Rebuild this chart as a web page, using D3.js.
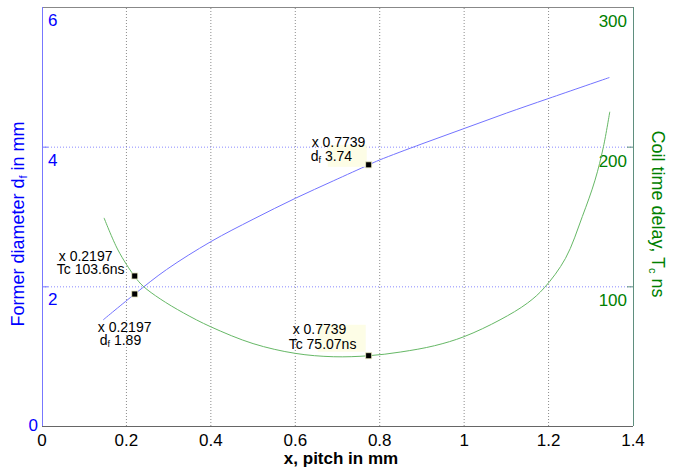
<!DOCTYPE html>
<html>
<head>
<meta charset="utf-8">
<script src="https://cdn.jsdelivr.net/npm/d3@7"></script>
<style>
  body { margin: 0; background: #fff; }
  svg { display: block; font-family: "Liberation Sans", Arial, sans-serif; }
</style>
</head>
<body>
<svg id="chart"></svg>
<script>
// former diameter (left axis)
const pitchDf = [0.145, 0.2197, 0.295, 0.4, 0.5, 0.6, 0.69, 0.7739, 0.8, 0.9, 1.0, 1.1, 1.2, 1.344];
const formerDia = [1.52, 1.89, 2.24, 2.64, 2.96, 3.26, 3.51, 3.74, 3.81, 4.04, 4.26, 4.48, 4.69, 4.99];

// coil time delay (right axis)
const pitchTc = [0.147, 0.18, 0.2197, 0.24, 0.28, 0.335, 0.4, 0.5, 0.6, 0.69, 0.7739, 0.85, 0.93, 1.0, 1.085, 1.15, 1.19, 1.24, 1.28, 1.31, 1.33, 1.345];
const delayTc = [149, 126, 107, 100, 91, 81, 71, 59, 52, 49.6, 50.3, 53, 57.5, 64, 76, 88, 99, 120, 150, 176, 200, 225];

const xTicks = [0, 0.2, 0.4, 0.6, 0.8, 1, 1.2, 1.4];
const leftTicks = [0, 2, 4, 6];
const rightTicks = [100, 200, 300];

// data tips
const tipX = [0.7739, 0.7739, 0.2197, 0.2197];
const tipSide = ["left", "right", "right", "left"];
const tipY = [3.74, 50.3, 107.4, 1.89];
const tipLine1 = ["x 0.7739", "x 0.7739", "x 0.2197", "x 0.2197"];
const tipLine2 = ["df 3.74", "Tc 75.07ns", "Tc 103.6ns", "df 1.89"];

const width = 678, height = 468;
const svg = d3.select("#chart").attr("width", width).attr("height", height);

const x = d3.scaleLinear().domain([0, 1.4]).range([42, 633]);
const yL = d3.scaleLinear().domain([0, 6]).range([426, 7]);
const yR = d3.scaleLinear().domain([0, 300]).range([426, 7]);

const blue = "#0000ff", green = "#008000";

// grid
svg.append("g").selectAll("line")
  .data(xTicks.slice(1, -1))
  .enter().append("line")
  .attr("x1", d => x(d)).attr("x2", d => x(d))
  .attr("y1", yL(0)).attr("y2", yL(6))
  .attr("stroke", "#8c8c8c").attr("stroke-dasharray", "1,2");

svg.append("g").selectAll("line")
  .data(leftTicks.slice(1, -1))
  .enter().append("line")
  .attr("x1", x(0)).attr("x2", x(1.4))
  .attr("y1", d => yL(d) + 0.5).attr("y2", d => yL(d) + 0.5)
  .attr("stroke", "#8a8aff").attr("stroke-dasharray", "1,2");

// frame
svg.append("line").attr("x1", x(0)).attr("x2", x(1.4)).attr("y1", 7.5).attr("y2", 7.5).attr("stroke", "#888");
svg.append("line").attr("x1", x(0)).attr("x2", x(1.4)).attr("y1", 426.5).attr("y2", 426.5).attr("stroke", "#666");
svg.append("line").attr("x1", x(0) + 0.5).attr("x2", x(0) + 0.5).attr("y1", 7).attr("y2", 426).attr("stroke", "#7777ff");
svg.append("line").attr("x1", x(1.4) + 0.5).attr("x2", x(1.4) + 0.5).attr("y1", 7).attr("y2", 426).attr("stroke", "#5f8f7f");

// inward ticks
svg.append("g").selectAll("line")
  .data(leftTicks.slice(1, -1))
  .enter().append("line")
  .attr("x1", x(0)).attr("x2", x(0) + 6)
  .attr("y1", d => yL(d) + 0.5).attr("y2", d => yL(d) + 0.5)
  .attr("stroke", "#7777ff");
svg.append("g").selectAll("line")
  .data(rightTicks.slice(0, -1))
  .enter().append("line")
  .attr("x1", x(1.4) - 6).attr("x2", x(1.4))
  .attr("y1", d => yR(d) + 0.5).attr("y2", d => yR(d) + 0.5)
  .attr("stroke", "#5f8f7f");

// tick labels
svg.append("g").selectAll("text")
  .data(xTicks)
  .enter().append("text")
  .attr("x", d => x(d)).attr("y", 446)
  .attr("text-anchor", "middle")
  .attr("font-size", 17).attr("fill", "#000")
  .text(d => d3.format("")(d));

svg.append("g").selectAll("text")
  .data(leftTicks)
  .enter().append("text")
  .attr("x", d => d === 0 ? x(0) - 4 : x(0) + 6)
  .attr("y", d => d === 0 ? yL(d) + 5 : yL(d) + 19)
  .attr("text-anchor", d => d === 0 ? "end" : "start")
  .attr("font-size", 17).attr("fill", blue)
  .text(d => d);

svg.append("g").selectAll("text")
  .data(rightTicks)
  .enter().append("text")
  .attr("x", x(1.4) - 6)
  .attr("y", d => yR(d) + 20)
  .attr("text-anchor", "end")
  .attr("font-size", 17).attr("fill", green)
  .text(d => d);

// axis titles
svg.append("text")
  .attr("x", 341).attr("y", 464)
  .attr("text-anchor", "middle")
  .attr("font-size", 17).attr("font-weight", "bold")
  .text("x, pitch in mm");

const lt = svg.append("text")
  .attr("transform", "translate(24,224) rotate(-90)")
  .attr("text-anchor", "middle")
  .attr("font-size", 18).attr("fill", blue);
lt.append("tspan").text("Former diameter d");
lt.append("tspan").attr("font-size", 11).attr("dy", 3).text("f");
lt.append("tspan").attr("dy", -3).text(" in mm");

const rt = svg.append("text")
  .attr("transform", "translate(652,214) rotate(90)")
  .attr("text-anchor", "middle")
  .attr("font-size", 18).attr("fill", green);
rt.append("tspan").text("Coil time delay, T");
rt.append("tspan").attr("font-size", 11).attr("dy", 3).text("c");
rt.append("tspan").attr("dy", -3).text(" ns");

// curves
const dfLine = d3.line()
  .x((d, i) => x(pitchDf[i]))
  .y(d => yL(d))
  .curve(d3.curveCatmullRom.alpha(0.5));
svg.append("path")
  .attr("d", dfLine(formerDia))
  .attr("fill", "none").attr("stroke", "#7373ff").attr("stroke-width", 1);

const tcLine = d3.line()
  .x((d, i) => x(pitchTc[i]))
  .y(d => yR(d))
  .curve(d3.curveCatmullRom.alpha(0.5));
svg.append("path")
  .attr("d", tcLine(delayTc))
  .attr("fill", "none").attr("stroke", "#66b866").attr("stroke-width", 1);

// data tips: text offsets relative to the marker
const tipLayout = [
  { l1: [-57, -18], l2: [-58, -4], box: [-41, -20, 39, 22] },
  { l1: [-76, -22], l2: [-80, -7], box: [-51, -31, 48, 27] },
  { l1: [-76, -15], l2: [-78, -2], box: null },
  { l1: [-37, 38], l2: [-35, 51], box: null }
];

const tips = svg.append("g").selectAll("g")
  .data(tipX.map((v, i) => i))
  .enter().append("g")
  .attr("transform", i => {
    const py = tipSide[i] === "left" ? yL(tipY[i]) : yR(tipY[i]);
    return `translate(${x(tipX[i])},${py})`;
  });

tips.filter(i => tipLayout[i].box)
  .append("rect")
  .attr("x", i => tipLayout[i].box[0]).attr("y", i => tipLayout[i].box[1])
  .attr("width", i => tipLayout[i].box[2]).attr("height", i => tipLayout[i].box[3])
  .attr("fill", "#fdfde6");

tips.append("rect")
  .attr("x", -3).attr("y", -3).attr("width", 6).attr("height", 6)
  .attr("fill", "#000").attr("stroke", "#e8e8c0").attr("stroke-width", 0.8);

tips.append("text")
  .attr("x", i => tipLayout[i].l1[0]).attr("y", i => tipLayout[i].l1[1])
  .attr("font-size", 14).attr("fill", "#000")
  .text(i => tipLine1[i]);

tips.each(function (i) {
  const t = d3.select(this).append("text")
    .attr("x", tipLayout[i].l2[0]).attr("y", tipLayout[i].l2[1])
    .attr("font-size", 14).attr("fill", "#000");
  const s = tipLine2[i];
  if (s.startsWith("df")) {
    t.append("tspan").text("d");
    t.append("tspan").attr("font-size", 9).attr("dy", 2).text("f");
    t.append("tspan").attr("dy", -2).text(s.slice(2));
  } else {
    t.text(s);
  }
});
</script>
</body>
</html>
